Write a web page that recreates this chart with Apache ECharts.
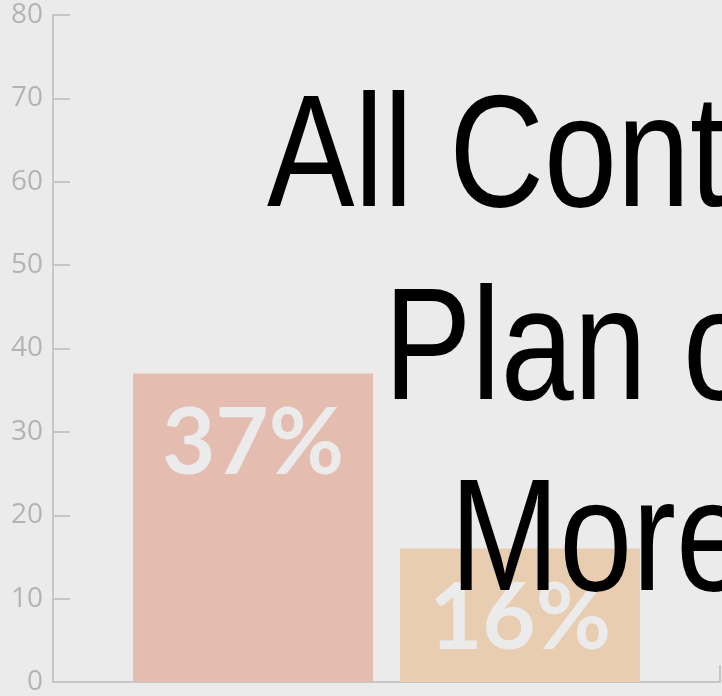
<!DOCTYPE html>
<html>
<head>
<meta charset="utf-8">
<style>
  html, body { margin: 0; padding: 0; background: #ebebeb; }
  #chart { width: 722px; height: 696px; }
</style>
<script src="https://cdn.jsdelivr.net/npm/echarts@6/dist/echarts.min.js"></script>
</head>
<body>
<div id="chart"></div>
<script>
// Chart data
const categories = [''];
const seriesAValues = [37];
const seriesBValues = [16];
const yTicks = { min: 0, max: 80, step: 10 };
const headingLines = ['All Cont', 'Plan o', 'More'];

const chart = echarts.init(document.getElementById('chart'), null, { renderer: 'canvas' });

const axisGrey = '#c6c6c6';
const labelFont = 'Lato, "Open Sans", sans-serif';

function barLabel() {
  return {
    show: true,
    position: 'insideTop',
    distance: 25,
    formatter: p => p.value + '%',
    color: '#ebebeb',
    fontFamily: labelFont,
    fontWeight: 'bold',
    fontSize: 92
  };
}

// Heading lines in a narrowed sans, placed left-aligned
const headingX = [267, 384, 450];
const headingY = [242, 435, 626];
const headingFontSize = 160;

const graphics = headingLines.map((t, i) => ({
  type: 'text',
  z: 100,
  x: headingX[i],
  y: headingY[i],
  scaleX: 0.82,
  style: {
    text: t,
    fill: '#000',
    font: 'normal ' + headingFontSize + 'px "Liberation Sans", Arial, sans-serif',
    textAlign: 'left',
    textVerticalAlign: 'bottom'
  }
}));

chart.setOption({
  backgroundColor: '#ebebeb',
  animation: false,
  grid: { left: 53, right: 2, top: 15, bottom: 13, containLabel: false },
  xAxis: {
    type: 'category',
    data: categories,
    boundaryGap: true,
    axisLine: { show: true, lineStyle: { color: axisGrey, width: 2 } },
    axisTick: { show: true, inside: true, length: 17, lineStyle: { color: axisGrey, width: 2 } },
    axisLabel: { show: false },
    splitLine: { show: false }
  },
  yAxis: {
    type: 'value',
    min: yTicks.min,
    max: yTicks.max,
    interval: yTicks.step,
    axisLine: { show: true, lineStyle: { color: axisGrey, width: 2 } },
    axisTick: { show: true, inside: true, length: 17, lineStyle: { color: axisGrey, width: 2 } },
    axisLabel: { color: '#b4b4b4', fontSize: 28, fontFamily: '"Open Sans", sans-serif', margin: 10 },
    splitLine: { show: false }
  },
  series: [
    {
      type: 'bar',
      data: seriesAValues,
      barWidth: 240,
      barGap: '11.25%',
      itemStyle: { color: '#e5bdb0' },
      label: barLabel()
    },
    {
      type: 'bar',
      data: seriesBValues,
      barWidth: 240,
      itemStyle: { color: '#e8cdb0' },
      label: barLabel()
    }
  ],
  graphic: graphics
});
</script>
</body>
</html>
